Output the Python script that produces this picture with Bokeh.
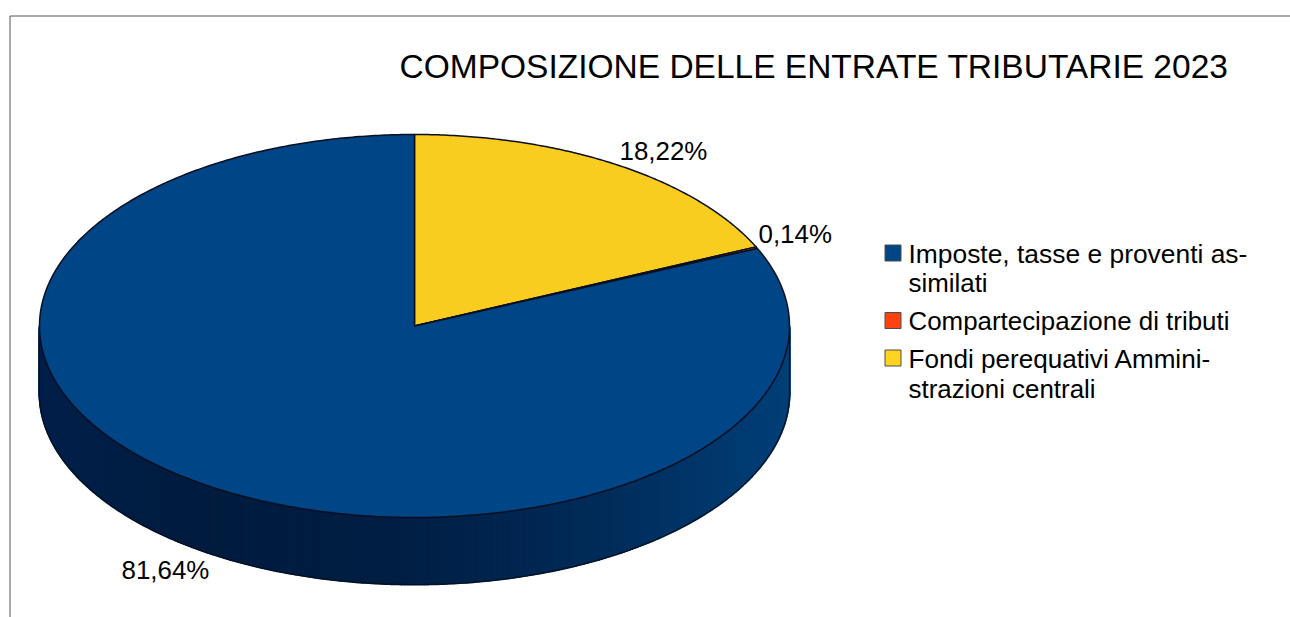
import numpy as np
from bokeh.plotting import figure
from bokeh.core.properties import value
from bokeh.embed import file_html
from bokeh.resources import INLINE

title = "COMPOSIZIONE DELLE ENTRATE TRIBUTARIE 2023"
categories = ["Imposte, tasse e proventi assimilati", "Compartecipazione di tributi", "Fondi perequativi Amministrazioni centrali"]
values = [81.64, 0.14, 18.22]
percent_labels = ["81,64%", "0,14%", "18,22%"]
slice_colors = ["#004586", "#ff420e", "#f9cd1f"]
legend_colors = ["#004586", "#ff420e", "#ffd320"]
legend_lines = [["Imposte, tasse e proventi as-", "similati"],
                ["Compartecipazione di tributi"],
                ["Fondi perequativi Ammini-", "strazioni centrali"]]

# layout, in page pixels
CX, CY, RX, RY, DEPTH = 414.0, 325.5, 375.0, 191.5, 67.0
FONT = value("Liberation Sans")
TEXT_SHIFT = -9

p = figure(width=1290, height=617, x_range=(0, 1290), y_range=(617, 0),
           output_backend="svg", toolbar_location=None, min_border=0,
           background_fill_color="white", border_fill_color="white")
p.axis.visible = False
p.grid.visible = False
p.outline_line_color = None

# frame: top and left edges only
p.line([9.5, 9.5, 1290], [617, 15.5, 15.5], line_color="#555555", line_width=1)

def ell(theta, dy=0.0):
    return CX + RX * np.sin(theta), CY - RY * np.cos(theta) + dy

# side wall, shaded from left to right
stops_x = [39, 200, 400, 600, 789]
stops_c = np.array([[0, 32, 74], [0, 28, 63], [0, 31, 68], [0, 44, 90], [0, 64, 121]], float)
thetas = np.linspace(np.pi / 2, 3 * np.pi / 2, 361)
xs, ys, cols = [], [], []
for a, b in zip(thetas[:-1], thetas[1:]):
    x0, y0 = ell(a)
    x1, y1 = ell(b)
    xs.append([x0, x1, x1, x0])
    ys.append([y0, y1, y1 + DEPTH, y0 + DEPTH])
    mid = (x0 + x1) / 2
    c = [int(np.interp(mid, stops_x, stops_c[:, i])) for i in range(3)]
    cols.append("#%02x%02x%02x" % tuple(c))
p.patches(xs, ys, fill_color=cols, line_color=cols, line_width=2)

# outline of the wall
ex, ey = ell(thetas, DEPTH)
wx = np.concatenate([[CX + RX], ex, [CX - RX]])
wy = np.concatenate([[CY], ey, [CY]])
p.line(wx, wy, line_color="#04101f", line_width=1.2)

# top face: clockwise from 12 o'clock the series run in reverse order
fracs = np.array(values, float) / sum(values)
start = 0.0
order = [2, 1, 0]
for i in order:
    end = start + 2 * np.pi * fracs[i]
    t = np.linspace(start, end, max(3, int(fracs[i] * 720)))
    x, y = ell(t)
    p.patch(np.concatenate([[CX], x]), np.concatenate([[CY], y]),
            fill_color=slice_colors[i], line_color="#0a0f22", line_width=1.5, line_join="round")
    start = end

# title and data labels
p.text([399], [75 + TEXT_SHIFT], text=[title], text_font=FONT, text_font_size="33.5px",
       text_color="#000000", text_baseline="alphabetic", text_align="left")
p.text([121, 758, 619], [578 + TEXT_SHIFT, 242 + TEXT_SHIFT, 159 + TEXT_SHIFT], text=percent_labels,
       text_font=FONT, text_font_size="25.9px",
       text_color="#000000", text_baseline="alphabetic", text_align="left")

# legend
swatch_y = [252.5, 320, 357.5]
line_y = [[262, 291], [329], [367, 397]]
line_size = [["26.4px", "25.9px"], ["25.9px"], ["26.1px", "25.9px"]]
p.rect([892.5] * 3, swatch_y, width=16, height=16, fill_color=legend_colors,
       line_color="#4d4d4d", line_width=1)
for lines, ypos, sizes in zip(legend_lines, line_y, line_size):
    for s, yy, fs in zip(lines, ypos, sizes):
        p.text([908], [yy + TEXT_SHIFT], text=[s], text_font=FONT, text_font_size=fs,
               text_color="#000000", text_baseline="alphabetic", text_align="left")

open("out.html", "w").write(file_html(p, INLINE))
